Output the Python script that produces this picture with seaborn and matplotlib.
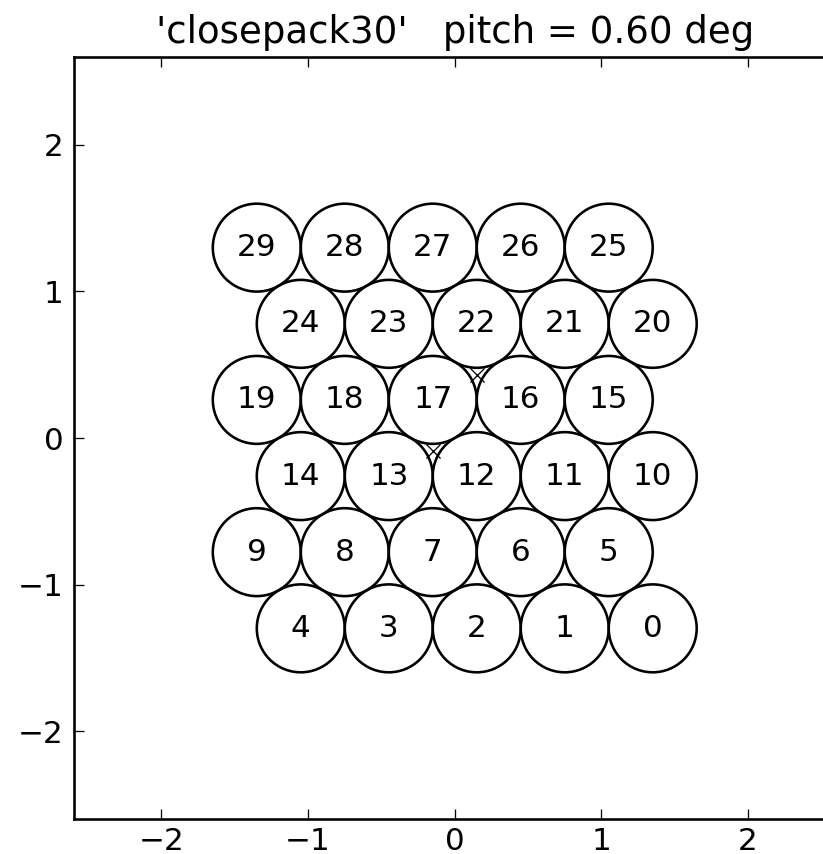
import matplotlib
matplotlib.use("Agg")
import matplotlib.pyplot as plt
from matplotlib.patches import Circle
import seaborn as sns
import pandas as pd

# ---- data ----
title_text = "'closepack30'   pitch = 0.60 deg"
fiber_ids = list(range(30))
fiber_x = [1.35, 0.75, 0.15, -0.45, -1.05,
           1.05, 0.45, -0.15, -0.75, -1.35,
           1.35, 0.75, 0.15, -0.45, -1.05,
           1.05, 0.45, -0.15, -0.75, -1.35,
           1.35, 0.75, 0.15, -0.45, -1.05,
           1.05, 0.45, -0.15, -0.75, -1.35]
fiber_y = [-1.299] * 5 + [-0.779] * 5 + [-0.260] * 5 + [0.260] * 5 + [0.779] * 5 + [1.299] * 5
fiber_radius = 0.30
marker_x = [0.15, -0.15]
marker_y = [0.433, -0.087]
x_ticks = [-2, -1, 0, 1, 2]
y_ticks = [-2, -1, 0, 1, 2]
x_lim = (-2.6, 2.6)
y_lim = (-2.6, 2.6)

sns.set_style("ticks")
plt.rcParams.update({
    "font.family": ["DejaVu Sans"],
    "font.size": 12,
    "text.color": "black",
    "axes.titlecolor": "black",
    "axes.labelcolor": "black",
    "axes.linewidth": 1.0,
    "xtick.direction": "in",
    "ytick.direction": "in",
    "xtick.top": True,
    "ytick.right": True,
    "xtick.major.size": 4,
    "ytick.major.size": 4,
    "xtick.major.width": 0.5,
    "ytick.major.width": 0.5,
    "xtick.major.pad": 3.0,
    "ytick.major.pad": 4,
    "xtick.labelsize": 12,
    "ytick.labelsize": 12,
    "xtick.color": "black",
    "ytick.color": "black",
    "xtick.labelcolor": "black",
    "ytick.labelcolor": "black",
    "axes.edgecolor": "black",
})

DPI = 186
fig = plt.figure(figsize=(823 / DPI, 854 / DPI), dpi=DPI, facecolor="white")
ax = fig.add_axes([73.5 / 823, 35 / 854, 762.5 / 823, 762 / 854])
ax.set_facecolor("white")

df_m = pd.DataFrame({"x": marker_x, "y": marker_y})
sns.scatterplot(data=df_m, x="x", y="y", marker="x", s=30, color="black",
                linewidth=0.5, ax=ax, zorder=1)

for fid, cx, cy in zip(fiber_ids, fiber_x, fiber_y):
    ax.add_patch(Circle((cx, cy), fiber_radius, facecolor="none",
                        edgecolor="black", linewidth=1.0, zorder=2))
    ax.text(cx, cy, str(fid), ha="center", va="center", fontsize=12,
            color="black", zorder=3)

ax.set_xlim(*x_lim)
ax.set_ylim(*y_lim)
ax.set_xticks(x_ticks)
ax.set_yticks(y_ticks)
ax.set_xlabel("")
ax.set_ylabel("")
ax.set_title(title_text, fontsize=14.4, pad=5.5, color="black")
for s in ax.spines.values():
    s.set_visible(True)

fig.savefig("out.png", dpi=DPI, facecolor="white")
